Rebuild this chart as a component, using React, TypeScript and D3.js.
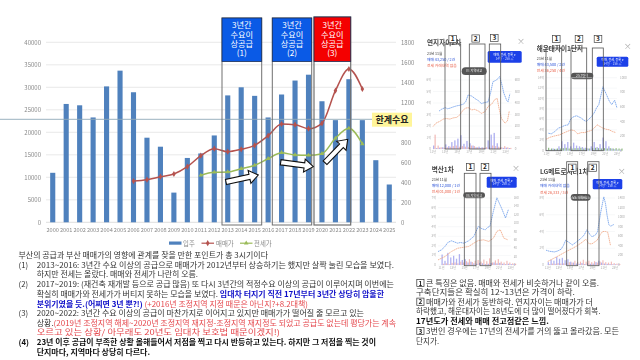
import React from "react";
import * as d3 from "d3";

// ---------- main chart data ----------
const years = d3.range(2000, 2026).map(String);
const supply = [11000, 26300, 26000, 23300, 30200, 33700, 28900, 18800, 16800, 6600, 14300, 15300, 19300, 28200, 30000, 28100, 23300, 28400, 31500, 32800, 26900, 22700, 31800, 22700, 13800, 8400];
const saleYears = d3.range(2006, 2024).map(String);
const salePrice = [412, 426, 456, 483, 556, 666, 736, 706, 730, 770, 866, 983, 976, 936, 990, 1316, 1533, 1333];
const rentYears = d3.range(2011, 2024).map(String);
const rentPrice = [470, 500, 503, 536, 570, 636, 696, 673, 670, 686, 840, 940, 783];
const leftTicks = d3.range(0, 40001, 5000);
// 1000 sits behind the yellow label in the reference, so it is not drawn
const rightTicks = [0, 200, 400, 600, 800, 1200, 1400, 1600, 1800];

const headerLines = ["3년간", "수요이", "상공급"];
const legendSupply = "입주";
const legendSale = "매매가";
const legendRent = "전세가";
const limitLabel = "한계수요";

// ---------- caption text ----------
type Seg = [string, string?];
const captionLeft: Seg[][] = [
  [["부산의 공급과 부산 매매가의 영향에 관계를 찾을 만한 포인트가 총 3시기이다"]],
  [["2013~2016: 3년간 수요 이상의 공급으로 매매가가 2012년부터 상승하기는 했지만 살짝 눌린 모습을 보였다."]],
  [["하지만 전세는 올랐다. 매매와 전세가 나란히 오름."]],
  [["2017~2019: (재건축 재개발 등으로 공급 많음) 또 다시 3년간의 적정수요 이상의 공급이 이루어지며 이번에는"]],
  [["확실히 매매가와 전세가가 버티지 못하는 모습을 보였다. "], ["임대차 터지기 직전 17년부터 3년간 상당히 암울한", "b"]],
  [["분위기였을 듯.(어찌면 3년 뿐?!)", "b"], [" (+2016년 조정지역 지정 때문은 아닌지?+8.2대책)", "r"]],
  [["2020~2022: 3년간 수요 이상의 공급이 마찬가지로 이어지고 있지만 매매가가 떨어질 줄 모르고 있는"]],
  [["상황."], ["(2019년 조정지역 해제~2020년 조정지역 재지정-조정지역 재지정도 되었고 공급도 없는데 평당가는 계속", "r"]],
  [["오르고 있는 상황/ 아무래도 20년도 임대차 보호법 때문이겠지!)", "r"]],
  [["23년 이후 공급이 부족한 상황 올해들어서 저점을 찍고 다시 반등하고 있는다. 하지만 그 저점을 찍는 것이", "k"]],
  [["단지마다, 지역마다 상당히 다르다.", "k"]],
];
const captionLeftNums: (string | null)[] = [null, "(1)", null, "(2)", null, null, "(3)", null, null, "(4)", null];
const captionLeftEnds = [268, 394, 198, 394, 384, 308, 364, 396, 280, 376, 150];
const captionLeftYs = [258, 267.5, 277, 287, 296.5, 306.5, 316, 325.5, 335, 345, 354.5];

const captionRight: Seg[][] = [
  [["큰 특징은 없음. 매매와 전세가 비슷하거나 같이 오름."]],
  [["구축단지들은 확실히 12~13년은 가격이 하락."]],
  [["매매가와 전세가 동반하락. 연지자이는 매매가가 더"]],
  [["하락했고, 해운대자이는 18년도에 더 많이 떨어졌다가 회복."]],
  [["17년도가 전세와 매매 전고점같은 느낌.", "k"]],
  [["3번인 경우에는 17년의 전세가를 거의 뚫고 올라갔음. 모든"]],
  [["단지가."]],
];
const captionRightNums: (string | null)[] = ["1", null, "2", null, null, "3", null];
const captionRightEnds = [599, 575, 593, 600.5, 549, 619, 439];
const captionRightYs = [286, 295, 304.7, 314.4, 324, 334, 343.7];

// ---------- thumbnail data ----------
const volYears = d3.range(11, 24, 0.5);

const p1SaleYears = [12.0, 12.4, 13, 13.4, 13.8, 14.3, 14.9, 15.4, 16, 16.4, 16.8, 17.4, 17.9, 18.5, 19, 19.6, 20.1, 20.5, 20.9, 21.5, 22, 22.4, 22.7, 23.2, 23.4, 23.7];
const p1Sale = [3.3, 3.45, 3.6, 3.5, 3.55, 3.65, 3.75, 3.8, 3.9, 4.1, 4.7, 4.6, 4.4, 4.2, 3.95, 4.05, 4.1, 4.85, 5.85, 6, 6.3, 5.55, 4.85, 4.2, 4.1, 4.8];
const p1RentYears = [11, 11.5, 12.1, 12.7, 13.2, 13.8, 14.3, 14.9, 15.4, 16, 16.4, 16.8, 17.4, 17.9, 18.5, 19, 19.6, 20.1, 20.7, 21.2, 21.6, 21.9, 22.3, 22.9, 23.3, 23.6];
const p1Rent = [1.95, 2.25, 2.4, 2.6, 2.65, 2.6, 2.7, 2.75, 2.95, 3.4, 3.55, 3.6, 3.4, 3.45, 3.3, 3.1, 3.25, 3.7, 3.9, 4.3, 4.4, 3.55, 2.65, 2.25, 2.45, 3.3];
const p1VolSale = [30, 8, 12, 15, 40, 25, 60, 75, 90, 120, 45, 70, 50, 30, 15, 20, 15, 10, 75, 125, 140, 50, 15, 10, 12, 8];
const p1VolRent = [125, 30, 15, 10, 15, 20, 25, 30, 20, 25, 20, 15, 30, 25, 15, 10, 12, 15, 20, 30, 25, 20, 15, 25, 15, 10];

const p2SaleYears = [11.3, 11.8, 12.4, 13, 13.5, 14.1, 14.7, 15.1, 15.5, 16.1, 16.9, 17.4, 17.8, 18.2, 18.6, 19.1, 19.5, 19.9, 20.6, 21.2, 21.7, 22.1, 22.6, 23];
const p2Sale = [3.35, 3.23, 3.68, 4.32, 4.52, 4.84, 4.97, 6.06, 6.45, 6.71, 6.26, 5.81, 5.61, 6.06, 6.45, 7.23, 8.19, 8.84, 12.26, 10.77, 9.48, 8.84, 9.68, 8.19];
const p2RentYears = [10.9, 11.6, 12.4, 13.2, 13.8, 14.5, 15.2, 15.8, 16.3, 16.9, 17.5, 18, 18.6, 19.1, 19.6, 20.1, 20.6, 21.1, 21.7, 22.2, 22.8];
const p2Rent = [2.19, 2.58, 2.84, 3.03, 3.35, 3.68, 4.0, 3.81, 3.23, 3.48, 3.48, 3.68, 3.87, 4.32, 4.97, 4.65, 4.32, 4.13, 4.0, 3.68, 3.48];
const p2VolSale = [10, 15, 30, 25, 60, 130, 90, 120, 60, 110, 70, 60, 50, 40, 30, 60, 120, 50, 90, 180, 130, 60, 30, 20, 15, 10];
const p2VolRent = [40, 30, 25, 30, 30, 35, 40, 30, 30, 35, 35, 40, 30, 35, 30, 35, 40, 35, 30, 35, 30, 35, 30, 35, 30, 30];

const p3SaleYears = [10.4, 11, 11.6, 12.1, 12.7, 13.2, 13.8, 14.3, 14.9, 15.7, 16.6, 17, 17.4, 18, 18.6, 19, 19.4, 20, 20.6, 21, 21.4, 21.8, 22.1, 22.6];
const p3Sale = [1.4, 1.58, 1.93, 2.35, 2.53, 2.42, 2.28, 2.35, 2.28, 2.53, 2.98, 3.51, 4.04, 3.79, 3.68, 3.93, 4.04, 5.61, 7.02, 6.49, 5.96, 5.37, 4.91, 5.79];
const p3RentYears = [10.4, 11.6, 12.7, 13.8, 14.9, 15.7, 16.6, 17.4, 18.3, 19.2, 20, 20.6, 21.2, 21.8, 22.5];
const p3Rent = [0.53, 0.88, 1.4, 1.75, 1.86, 1.93, 2.28, 2.56, 2.63, 2.46, 2.81, 3.51, 3.68, 2.81, 2.63];
const p3VolSale = [25, 10, 29, 18, 22, 15, 26, 12, 14, 6, 8, 4, 3, 5, 4, 2, 3, 5, 6, 4, 5, 3, 2, 3, 2, 2];
const p3VolRent = [3, 4, 2, 5, 6, 4, 8, 6, 9, 14, 7, 10, 12, 8, 13, 9, 16, 6, 11, 14, 8, 6, 10, 6, 4, 3];

const p4SaleYears = [10.7, 11.3, 12.2, 12.8, 13.4, 13.8, 14.2, 14.9, 15.4, 16.1, 16.9, 17.5, 18, 18.5, 18.9, 19.5, 19.9, 20.4, 21, 21.3, 21.6, 21.9, 22.2, 22.8];
const p4Sale = [1.77, 1.64, 1.56, 1.68, 1.89, 2.32, 2.95, 2.65, 2.4, 2.74, 3.16, 3.58, 4.21, 3.66, 3.37, 3.58, 4.0, 6.11, 8.13, 7.37, 5.89, 4.84, 4.63, 4.84];
const p4RentYears = [11, 12.8, 14.5, 15.4, 16.3, 17.2, 17.8, 18.4, 18.9, 19.8, 20.4, 20.8, 21.3, 21.7, 22.2];
const p4Rent = [0.42, 1.05, 1.68, 1.98, 2.32, 2.74, 3.07, 2.53, 2.53, 2.95, 3.66, 4.0, 4.0, 3.92, 2.32];
const p4VolSale = [60, 110, 90, 170, 130, 150, 100, 120, 70, 50, 30, 25, 40, 20, 35, 25, 30, 60, 90, 50, 30, 25, 20, 15, 15, 10];
const p4VolRent = [20, 30, 25, 40, 30, 35, 40, 60, 50, 90, 60, 70, 110, 70, 90, 60, 80, 50, 70, 100, 60, 50, 70, 40, 30, 20];

const xLabels1 = ["11년", "13년", "15년", "17년", "19년", "21년", "23년"];

const panels = [
  {
    title: "연지자이2차", titleX: 427, titleY: 45, closeX: 521, closeY: 42, infoX: 427, infoY: [55, 61, 67],
    info: ["23년 11월", "매매 43,250 / 2건", "전세 거래내역 없음"], btn: [487.7, 51, 34, 11.7], pill: [461.7, 67.3, 25, 7.7], pillText: "VS 지역비교",
    left: 433, right: 511.7, base: 149, top: 80, maxV: 6, leftTicks: [0, 1, 2, 3, 4, 5, 6], rightTicks: [0, 100, 200, 300, 400, 500, 600], maxR: 600, yearL: 11, yearR: 24,
    saleYears: p1SaleYears, sale: p1Sale, rentYears: p1RentYears, rent: p1Rent, volSale: p1VolSale, volRent: p1VolRent,
    frames: [[445, 460.7], [469.3, 485], [489.3, 500.7]], frameTop: 44, frameBottom: 149, labels: [[452.7, 39], [475.7, 38.5], [494.3, 38]], green: false,
  },
  {
    title: "해운대자이1단지", titleX: 536.7, titleY: 51, closeX: 627.7, closeY: 47.3, infoX: 536.7, infoY: [60, 66.3, 72],
    info: ["23년 11월", "매매 43,500 / 2건", "전세 36,250 / 4건"], btn: [596.7, 56.7, 31.6, 10], pill: [571, 72.7, 22.3, 6.6], pillText: "25.7평형",
    left: 546, right: 617, base: 150.7, top: 77.7, maxV: 14, leftTicks: [0, 2, 4, 6, 8, 10, 12, 14], rightTicks: [0, 200, 400, 600, 800, 1000], maxR: 1000, yearL: 10.9, yearR: 23,
    saleYears: p2SaleYears, sale: p2Sale, rentYears: p2RentYears, rent: p2Rent, volSale: p2VolSale, volRent: p2VolRent,
    frames: [[546, 561.7], [571, 586.7], [592.3, 603.3]], frameTop: 48, frameBottom: 150.7, labels: [[556.3, 39], [579, 39], [598, 39]], green: true,
  },
  {
    title: "벽산1차", titleX: 431.7, titleY: 171.5, closeX: 516, closeY: 169.3, infoX: 431.7, infoY: [181, 187, 192.7],
    info: ["23년 11월", "매매 12,000 / 1건", "전세 01,000 / 1건"], btn: [486.7, 176.7, 30, 11], pill: [463.3, 192.3, 21.7, 6], pillText: "VS 지역비교",
    left: 438, right: 510.7, base: 265, top: 198, maxV: 7, leftTicks: [0, 1, 2, 3, 4, 5, 6, 7], rightTicks: [0, 20, 40, 60, 80, 100, 120, 140, 160], maxR: 160, yearL: 10.4, yearR: 23,
    saleYears: p3SaleYears, sale: p3Sale, rentYears: p3RentYears, rent: p3Rent, volSale: p3VolSale, volRent: p3VolRent,
    frames: [[464.3, 476], [480, 491]], frameTop: 173.3, frameBottom: 265.7, labels: [[470.3, 167], [485, 167]], green: true,
  },
  {
    title: "LG메트로시티1차", titleX: 540, titleY: 174, closeX: 621.7, closeY: 171.7, infoX: 540, infoY: [181, 187, 193.5],
    info: ["23년 11월", "매매 거래내역 없음", "전세 26,333 / 3건"], btn: [592.7, 179, 29.6, 10.3], pill: [570.7, 194, 20, 6.7], pillText: "VS 지역비교",
    left: 546, right: 615, base: 265, top: 198, maxV: 8, leftTicks: [0, 2, 4, 6, 8], rightTicks: [0, 200, 400, 600, 800, 1000, 1200, 1400], maxR: 1400, yearL: 10.7, yearR: 23,
    saleYears: p4SaleYears, sale: p4Sale, rentYears: p4RentYears, rent: p4Rent, volSale: p4VolSale, volRent: p4VolRent,
    frames: [[566.7, 577.7], [587.7, 599]], frameTop: 161.7, frameBottom: 265.7, labels: [[572.3, 167.7], [592.7, 167.7]], green: false,
  },
];

// ---------- layout ----------
const KR = "'Noto Sans CJK KR', 'Noto Sans', sans-serif";
const plotTop = 42.3;
const plotBottom = 222.3;
const plotLeft = 46;
const plotRight = 396;

const x = d3.scaleBand<string>().domain(years).range([plotLeft, plotRight]).paddingInner(0.62).paddingOuter(0.31);
const yLeft = d3.scaleLinear().domain([0, 40000]).range([plotBottom, plotTop]);
const yRight = d3.scaleLinear().domain([0, 1800]).range([plotBottom, plotTop]);
const cx = (yr: string) => (x(yr) as number) + x.bandwidth() / 2;

const salePath = d3.line<number>().x((_, i) => cx(saleYears[i])).y((d) => yRight(d)).curve(d3.curveMonotoneX)(salePrice) as string;
const rentPath = d3.line<number>().x((_, i) => cx(rentYears[i])).y((d) => yRight(d)).curve(d3.curveMonotoneX)(rentPrice) as string;
const diamond = d3.symbol().type(d3.symbolDiamond).size(11)() as string;
const tri = d3.symbol().type(d3.symbolTriangle).size(9)() as string;

const headers = [
  { x0: 222, x1: 261.7, y0: 18, y1: 61.5, fill: "#0a5ae6", label: "(1)", stroke: "#707070" },
  { x0: 272.3, x1: 311.7, y0: 18, y1: 61.5, fill: "#0a5ae6", label: "(2)", stroke: "#707070" },
  { x0: 314, x1: 350.7, y0: 17, y1: 61.5, fill: "#f40000", label: "(3)", stroke: "#707070" },
];

const arrows = [
  [226, 182, 258.3, 175],
  [280.7, 162.3, 313.3, 166.7],
  [325, 162.7, 347.7, 139.3],
];

function arrowPoints([x0, y0, x1, y1]: number[]) {
  const len = Math.hypot(x1 - x0, y1 - y0);
  const ux = (x1 - x0) / len;
  const uy = (y1 - y0) / len;
  const nx = -uy;
  const ny = ux;
  const hw = 2.6;
  const hh = 6.5;
  const hl = 9;
  const bx = x1 - ux * hl;
  const by = y1 - uy * hl;
  const p: [number, number][] = [
    [x0 + nx * hw, y0 + ny * hw],
    [bx + nx * hw, by + ny * hw],
    [bx + nx * hh, by + ny * hh],
    [x1, y1],
    [bx - nx * hh, by - ny * hh],
    [bx - nx * hw, by - ny * hw],
    [x0 - nx * hw, y0 - ny * hw],
  ];
  return p.map((q) => q.join(",")).join(" ");
}

const segColor: Record<string, string> = { b: "#0d0dc8", r: "#e5484d", k: "#111" };
const segWeight: Record<string, number> = { b: 700, r: 400, k: 700 };

function CaptionLine({ segs, xs, xe, y, size }: { segs: Seg[]; xs: number; xe: number; y: number; size: number }) {
  return (
    <text x={xs} y={y} fontSize={size} fontFamily={KR} fill="#333" textLength={xe - xs} lengthAdjust="spacingAndGlyphs">
      {segs.map(([t, k], i) => (
        <tspan key={i} fill={k ? segColor[k] : "#333"} fontWeight={k ? segWeight[k] : 400} xmlSpace="preserve">
          {t}
        </tspan>
      ))}
    </text>
  );
}

function Panel({ p }: { p: (typeof panels)[number] }) {
  const sx = d3.scaleLinear().domain([p.yearL, p.yearR]).range([p.left, p.right]);
  const sy = d3.scaleLinear().domain([0, p.maxV]).range([p.base, p.top]);
  const sr = d3.scaleLinear().domain([0, p.maxR]).range([p.base, p.top]);
  const sale = d3.line<number>().x((_, i) => sx(p.saleYears[i])).y((d) => sy(d))(p.sale) as string;
  const rent = d3.line<number>().x((_, i) => sx(p.rentYears[i])).y((d) => sy(d))(p.rent) as string;
  const step = sx(11.5) - sx(11);
  const labelTicks = d3.range(0, xLabels1.length).map((i) => 11 + i * 2);
  return (
    <g>
      <g filter="url(#soft)">
        <text x={p.titleX} y={p.titleY} fontSize={6.6} fontWeight={700} fontFamily={KR} fill="#444">{p.title}</text>
        <text x={p.closeX} y={p.closeY + 2} fontSize={8} textAnchor="middle" fontFamily={KR} fill="#aaa">×</text>
        <text x={p.infoX} y={p.infoY[0]} fontSize={3.6} fontFamily={KR} fill="#444">{p.info[0]}</text>
        <text x={p.infoX} y={p.infoY[1]} fontSize={3.8} fontFamily={KR} fill="#2f55d8">{p.info[1]}</text>
        <text x={p.infoX} y={p.infoY[2]} fontSize={3.8} fontFamily={KR} fill="#e8604a">{p.info[2]}</text>
        <rect x={p.btn[0]} y={p.btn[1]} width={p.btn[2]} height={p.btn[3]} rx={1.5} fill="#1a3fe8" />
        <text x={p.btn[0] + p.btn[2] / 2} y={p.btn[1] + p.btn[3] / 2 - 0.5} fontSize={3} textAnchor="middle" fontFamily={KR} fill="#fff">매매, 전세, 등록 ▾</text>
        <text x={p.btn[0] + p.btn[2] / 2} y={p.btn[1] + p.btn[3] / 2 + 3.2} fontSize={3} textAnchor="middle" fontFamily={KR} fill="#cfd8ff">34평 · 256 ㎡</text>
        <rect x={p.pill[0]} y={p.pill[1]} width={p.pill[2]} height={p.pill[3]} rx={p.pill[3] / 2} fill="#555" />
        <text x={p.pill[0] + p.pill[2] / 2} y={p.pill[1] + p.pill[3] / 2 + 1.2} fontSize={3.2} textAnchor="middle" fontFamily={KR} fill="#eee">{p.pillText}</text>
        {p.leftTicks.map((t) => (
          <g key={t}>
            <line x1={p.left} x2={p.right} y1={sy(t)} y2={sy(t)} stroke="#eef0f3" strokeWidth={0.5} />
            <text x={p.left - 2} y={sy(t) + 1} fontSize={3} textAnchor="end" fontFamily={KR} fill="#aaa">{t === 0 ? "0" : `${t}억`}</text>
          </g>
        ))}
        {p.rightTicks.map((t) => (
          <text key={t} x={p.right + 3} y={sr(t) + 1} fontSize={3} fontFamily={KR} fill="#aaa">{t}</text>
        ))}
        {labelTicks.map((t, i) => (
          <text key={t} x={sx(t)} y={p.base + 4.3} fontSize={3} textAnchor="middle" fontFamily={KR} fill="#aaa">{xLabels1[i]}</text>
        ))}
        {volYears.map((yr, i) => (
          <g key={yr}>
            <rect x={sx(yr)} y={sr(p.volSale[i])} width={step * 0.45} height={p.base - sr(p.volSale[i])} fill="#7d7fe6" opacity={0.6} />
            <rect x={sx(yr) + step * 0.5} y={sr(p.volRent[i])} width={step * 0.4} height={p.base - sr(p.volRent[i])} fill={p.green && p.maxR === 1000 ? "#5d9e4a" : "#ec9d98"} opacity={0.7} />
          </g>
        ))}
        <path d={rent} fill="none" stroke="#f0a582" strokeWidth={0.8} strokeDasharray="1.6 0.5" />
        <path d={sale} fill="none" stroke="#6a9aea" strokeWidth={0.8} strokeDasharray="1.6 0.5" />
      </g>
      {p.frames.map(([a, b], i) => (
        <rect key={i} x={a} y={p.frameTop} width={b - a} height={p.frameBottom - p.frameTop} fill="none" stroke="#555" strokeWidth={0.8} />
      ))}
      {p.labels.map(([lx, ly], i) => (
        <g key={i}>
          <rect x={lx - 3.8} y={ly - 3.6} width={7.6} height={7.2} fill="#fff" stroke="#444" strokeWidth={0.7} />
          <text x={lx} y={ly + 2.4} fontSize={6.5} fontWeight={700} textAnchor="middle" fontFamily={KR} fill="#222">{i + 1}</text>
        </g>
      ))}
    </g>
  );
}

export default function App() {
  return (
    <svg width={640} height={360} viewBox="0 0 640 360" style={{ position: "absolute", left: 0, top: 0, background: "#fff" }}>
      <defs>
        <filter id="soft" x="-5%" y="-5%" width="110%" height="110%">
          <feGaussianBlur stdDeviation="0.35" />
        </filter>
        <filter id="soft2" x="-5%" y="-5%" width="110%" height="110%">
          <feGaussianBlur stdDeviation="0.25" />
        </filter>
      </defs>

      <g filter="url(#soft2)">
        {leftTicks.map((t) => (
          <g key={t}>
            {t > 0 && <line x1={plotLeft} x2={plotRight} y1={yLeft(t)} y2={yLeft(t)} stroke="#e3e3e3" strokeWidth={0.8} />}
            <text x={41} y={yLeft(t) + 2.2} fontSize={6} textAnchor="end" fontFamily={KR} fill="#8a8a8a">{t}</text>
          </g>
        ))}
        <line x1={plotLeft} x2={plotRight} y1={plotBottom} y2={plotBottom} stroke="#d5d5d5" strokeWidth={0.8} />
        {rightTicks.map((t) => (
          <text key={t} x={401} y={yRight(t) + 2.2} fontSize={6} fontFamily={KR} fill="#8a8a8a">{t}</text>
        ))}
        {years.map((yr, i) => (
          <g key={yr}>
            <rect x={x(yr)} y={yLeft(supply[i])} width={x.bandwidth()} height={plotBottom - yLeft(supply[i])} fill="#4f81bd" />
            <text x={cx(yr)} y={231.5} fontSize={5.6} textAnchor="middle" fontFamily={KR} fill="#8a8a8a">{yr}</text>
          </g>
        ))}
        <path d={salePath} fill="none" stroke="#b5534f" strokeWidth={1.5} />
        <path d={rentPath} fill="none" stroke="#9bbb59" strokeWidth={1.5} />
        {salePrice.map((v, i) => (
          <path key={i} d={diamond} transform={`translate(${cx(saleYears[i])},${yRight(v)})`} fill="#b5534f" />
        ))}
        {rentPrice.map((v, i) => (
          <path key={i} d={tri} transform={`translate(${cx(rentYears[i])},${yRight(v)})`} fill="#9bbb59" />
        ))}

        {/* legend */}
        <rect x={169} y={241.5} width={12.5} height={3.2} fill="#4f81bd" />
        <text x={183} y={245.5} fontSize={6.4} fontFamily={KR} fill="#8a8a8a">{legendSupply}</text>
        <line x1={201.5} x2={214} y1={243.2} y2={243.2} stroke="#b5534f" strokeWidth={1.2} />
        <path d={diamond} transform="translate(207.7,243.2)" fill="#b5534f" />
        <text x={216} y={245.5} fontSize={6.4} fontFamily={KR} fill="#8a8a8a">{legendSale}</text>
        <line x1={240} x2={252.5} y1={243.2} y2={243.2} stroke="#9bbb59" strokeWidth={1.2} />
        <path d={tri} transform="translate(246.2,243.2)" fill="#9bbb59" />
        <text x={254} y={245.5} fontSize={6.4} fontFamily={KR} fill="#8a8a8a">{legendRent}</text>
      </g>

      {/* limit demand */}
      <line x1={0} x2={376} y1={119.3} y2={119.3} stroke="#8fa9b8" strokeWidth={0.9} />
      <rect x={372} y={112.7} width={40} height={14} fill="#fff59a" />
      <text x={392} y={123} fontSize={9} fontWeight={700} textAnchor="middle" fontFamily={KR} fill="#222">{limitLabel}</text>

      {/* frames + headers */}
      {headers.map((h, i) => (
        <g key={i}>
          <rect x={h.x0} y={h.y0} width={h.x1 - h.x0} height={225 - h.y0} fill="none" stroke={h.stroke} strokeWidth={i === 2 ? 1.2 : 1} />
          <rect x={h.x0} y={h.y0} width={h.x1 - h.x0} height={h.y1 - h.y0} fill={h.fill} stroke="#1d2f55" strokeWidth={0.8} />
          {[...headerLines, h.label].map((t, j) => (
            <text key={j} x={(h.x0 + h.x1) / 2} y={28.2 + j * 9.4} fontSize={8.2} textAnchor="middle" fontFamily={KR} fill="#fff">{t}</text>
          ))}
        </g>
      ))}

      {/* arrows */}
      {arrows.map((a, i) => (
        <polygon key={i} points={arrowPoints(a)} fill="#fff" stroke="#111" strokeWidth={1.1} strokeLinejoin="miter" />
      ))}

      {/* caption left */}
      <g filter="url(#soft2)">
        {captionLeft.map((segs, i) => {
          const num = captionLeftNums[i];
          const xs = i === 0 ? 18.5 : 36.7;
          return (
            <g key={i}>
              {num && <text x={18.5} y={captionLeftYs[i]} fontSize={7.8} fontWeight={num === "(4)" ? 700 : 400} fontFamily={KR} fill={num === "(4)" ? "#111" : "#333"}>{num}</text>}
              <CaptionLine segs={segs} xs={xs} xe={captionLeftEnds[i]} y={captionLeftYs[i]} size={7.8} />
            </g>
          );
        })}
        {captionRight.map((segs, i) => {
          const num = captionRightNums[i];
          const xs = num ? 426 : 416;
          return (
            <g key={i}>
              {num && (
                <g>
                  <rect x={416.8} y={captionRightYs[i] - 6.6} width={7.2} height={7.2} fill="#fff" stroke="#333" strokeWidth={0.7} />
                  <text x={420.4} y={captionRightYs[i] - 0.5} fontSize={6.5} fontWeight={700} textAnchor="middle" fontFamily={KR} fill="#222">{num}</text>
                </g>
              )}
              <CaptionLine segs={segs} xs={xs} xe={captionRightEnds[i]} y={captionRightYs[i]} size={8} />
            </g>
          );
        })}
      </g>

      {panels.map((p, i) => (
        <Panel key={i} p={p} />
      ))}
    </svg>
  );
}
